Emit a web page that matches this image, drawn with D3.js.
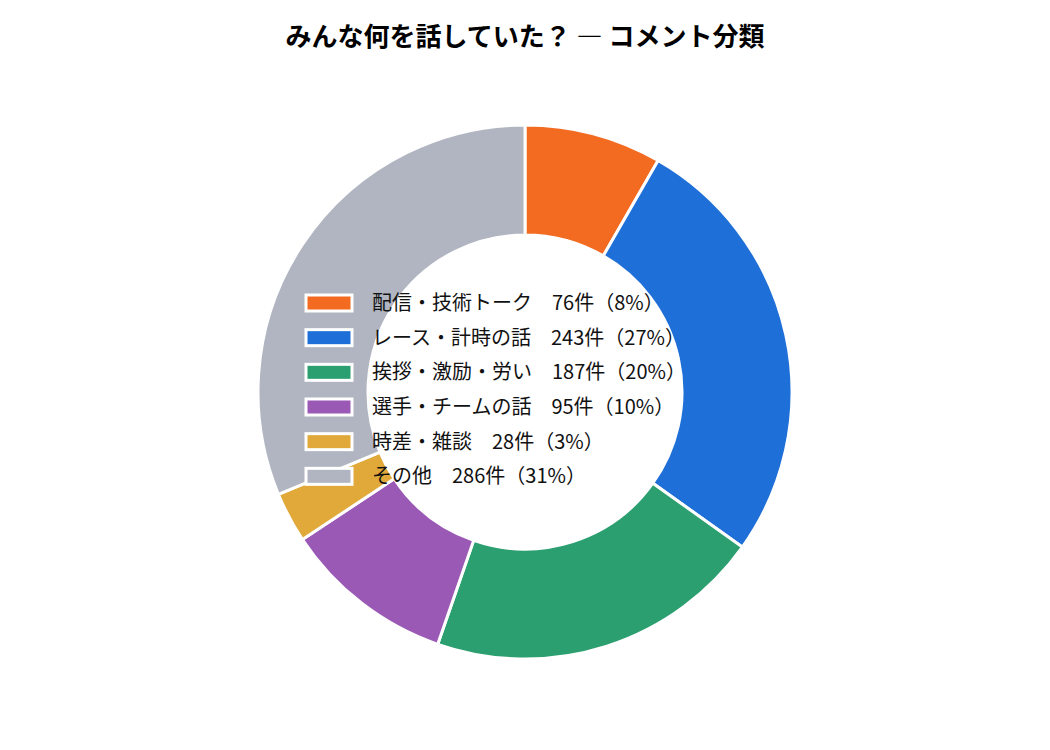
<!DOCTYPE html>
<html lang="ja">
<head>
<meta charset="UTF-8" />
<script src="https://d3js.org/d3.v7.min.js"></script>
<title>コメント分類</title>
<style>body{margin:0;background:#fff;font-family:"Noto Sans CJK JP","Noto Sans",sans-serif;}</style>
</head>
<body>
<script>
var categories = ["配信・技術トーク", "レース・計時の話", "挨拶・激励・労い", "選手・チームの話", "時差・雑談", "その他"];
var counts = [76, 243, 187, 95, 28, 286];
var colors = ["#f26b21", "#1f6fd8", "#2c9f70", "#9b59b6", "#e0a93a", "#b0b5c1"];

var W = 1050, H = 750, cx = 525, cy = 392;
var svg = d3.select("body").append("svg").attr("width", W).attr("height", H);

svg.append("text").attr("x", cx).attr("y", 46).attr("text-anchor", "middle")
  .attr("font-size", 26).attr("font-weight", "bold").text("みんな何を話していた？ — コメント分類");

var total = d3.sum(counts);
var data = categories.map(function(c, i){ return {name: c, value: counts[i], color: colors[i]}; });

var pie = d3.pie().value(function(d){ return d.value; }).sort(null);
var arc = d3.arc().innerRadius(157).outerRadius(267);

var g = svg.append("g").attr("transform", "translate(" + cx + "," + cy + ")");
g.selectAll("path").data(pie(data)).enter().append("path")
  .attr("d", arc).attr("fill", function(d){ return d.data.color; })
  .attr("stroke", "#fff").attr("stroke-width", 3);

var y = d3.scaleBand().domain(categories).range([286, 494]);
var leg = svg.append("g");
var rows = leg.selectAll("g").data(data).enter().append("g")
  .attr("transform", function(d){ return "translate(0," + y(d.name) + ")"; });
rows.append("rect").attr("x", 306).attr("y", 9).attr("width", 46).attr("height", 16)
  .attr("fill", function(d){ return d.color; }).attr("stroke", "#fff").attr("stroke-width", 3);
rows.append("text").attr("x", 372).attr("y", 24).attr("font-size", 20).attr("fill", "#111")
  .text(function(d){ return d.name + "　" + d.value + "件（" + Math.round(d.value / total * 100) + "%）"; });
</script>
</body>
</html>
